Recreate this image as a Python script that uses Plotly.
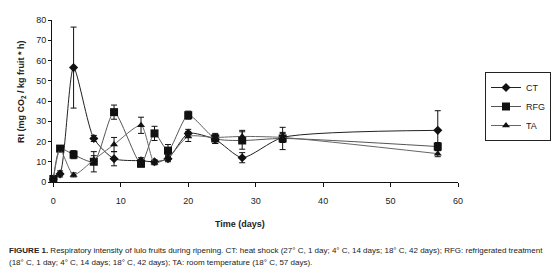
import plotly.graph_objects as go

days = [0, 1, 3, 6, 9, 13, 15, 17, 20, 24, 28, 34, 57]
ct = [1.5, 4, 56.5, 21.5, 11.5, 10.5, 10, 11.5, 24, 21, 12, 22, 25.5]
ct_err = [0.5, 1.5, 20, 1.5, 3.5, 1.5, 1, 1.5, 2, 2, 2.5, 2.5, 9.7]
rfg = [1.5, 16.5, 13.5, 10, 34.5, 9, 24, 15.5, 33, 21.5, 20.5, 21.5, 17.5]
rfg_err = [0.5, 1, 2, 5, 3.5, 1.5, 3.5, 3, 2, 2.5, 4.3, 5.5, 2]
ta = [1.5, 16, 3.5, 11, 18.5, 28, 9.5, 12, 22.5, 22, 22.5, 22, 14]
ta_err = [0.5, 1, 1, 2, 3.5, 4, 1, 1.5, 2.5, 1.5, 3, 2, 1.5]

FONT = "Liberation Sans, Arial, sans-serif"

series = [
    ("CT", ct, ct_err, "diamond", 7, "#222"),
    ("RFG", rfg, rfg_err, "square", 8, "#555"),
    ("TA", ta, ta_err, "triangle-up", 7, "#666"),
]

fig = go.Figure()
for name, ys, errs, sym, size, lc in series:
    fig.add_trace(go.Scatter(
        x=days, y=ys, name=name, mode="lines+markers",
        line=dict(color=lc, width=1, shape="spline", smoothing=0.65),
        marker=dict(symbol=sym, size=size, color="#111"),
        error_y=dict(type="data", array=errs, color="#111", thickness=1, width=3),
        cliponaxis=False,
    ))

# page body adds an 8px offset; figure is sized so the plot lands where the reference has it
PW, PH = 406, 162
L, B = 52, 182  # plot-area left / bottom in window pixels


def px(x):
    return (x - L) / PW


def py(y):
    return (B - y) / PH


fig.update_layout(
    width=552, height=272,
    margin=dict(l=44, r=102, t=12, b=98, autoexpand=False),
    paper_bgcolor="white", plot_bgcolor="white",
    font=dict(family=FONT, size=9, color="#222"),
    showlegend=True,
    legend=dict(
        x=px(485), y=py(72), xanchor="left", yanchor="top",
        bordercolor="#222", borderwidth=1,
        font=dict(size=9, family=FONT),
        itemwidth=30, tracegroupgap=0,
    ),
    xaxis=dict(
        range=[-0.2, 60], tickvals=[0, 10, 20, 30, 40, 50, 60], automargin=False,
        showgrid=False, zeroline=False, showline=True, linecolor="#111", linewidth=1,
        ticks="outside", ticklen=4, tickcolor="#111", ticklabelstandoff=6,
        tickfont=dict(size=9),
    ),
    yaxis=dict(
        range=[0, 80], tickvals=[0, 10, 20, 30, 40, 50, 60, 70, 80], automargin=False,
        showgrid=False, zeroline=False, showline=True, linecolor="#111", linewidth=1,
        ticks="outside", ticklen=3, tickcolor="#111",
        tickfont=dict(size=9),
    ),
)

fig.add_annotation(
    xref="paper", yref="paper", x=px(240), y=py(224), xanchor="center", yanchor="middle",
    showarrow=False, text="<b>Time (days)</b>", font=dict(size=9, family=FONT, color="#222"),
)
fig.add_annotation(
    xref="paper", yref="paper", x=px(21), y=py(92), xanchor="center", yanchor="middle",
    showarrow=False, textangle=-90,
    text="<b>RI (mg CO<sub>2</sub> / kg fruit * h)</b>", font=dict(size=9, family=FONT, color="#222"),
)
fig.add_annotation(
    xref="paper", yref="paper", x=px(7), y=py(250), xanchor="left", yanchor="middle",
    showarrow=False, align="left",
    text="<b>FIGURE 1.</b> Respiratory intensity of lulo fruits during ripening. CT: heat shock (27° C, 1 day; 4° C, 14 days; 18° C, 42 days); RFG: refrigerated treatment",
    font=dict(size=8, family=FONT, color="#222"),
)
fig.add_annotation(
    xref="paper", yref="paper", x=px(7), y=py(262), xanchor="left", yanchor="middle",
    showarrow=False, align="left",
    text="(18° C, 1 day; 4° C, 14 days; 18° C, 42 days); TA: room temperature (18° C, 57 days).",
    font=dict(size=8, family=FONT, color="#222"),
)

fig.write_html("out.html")
